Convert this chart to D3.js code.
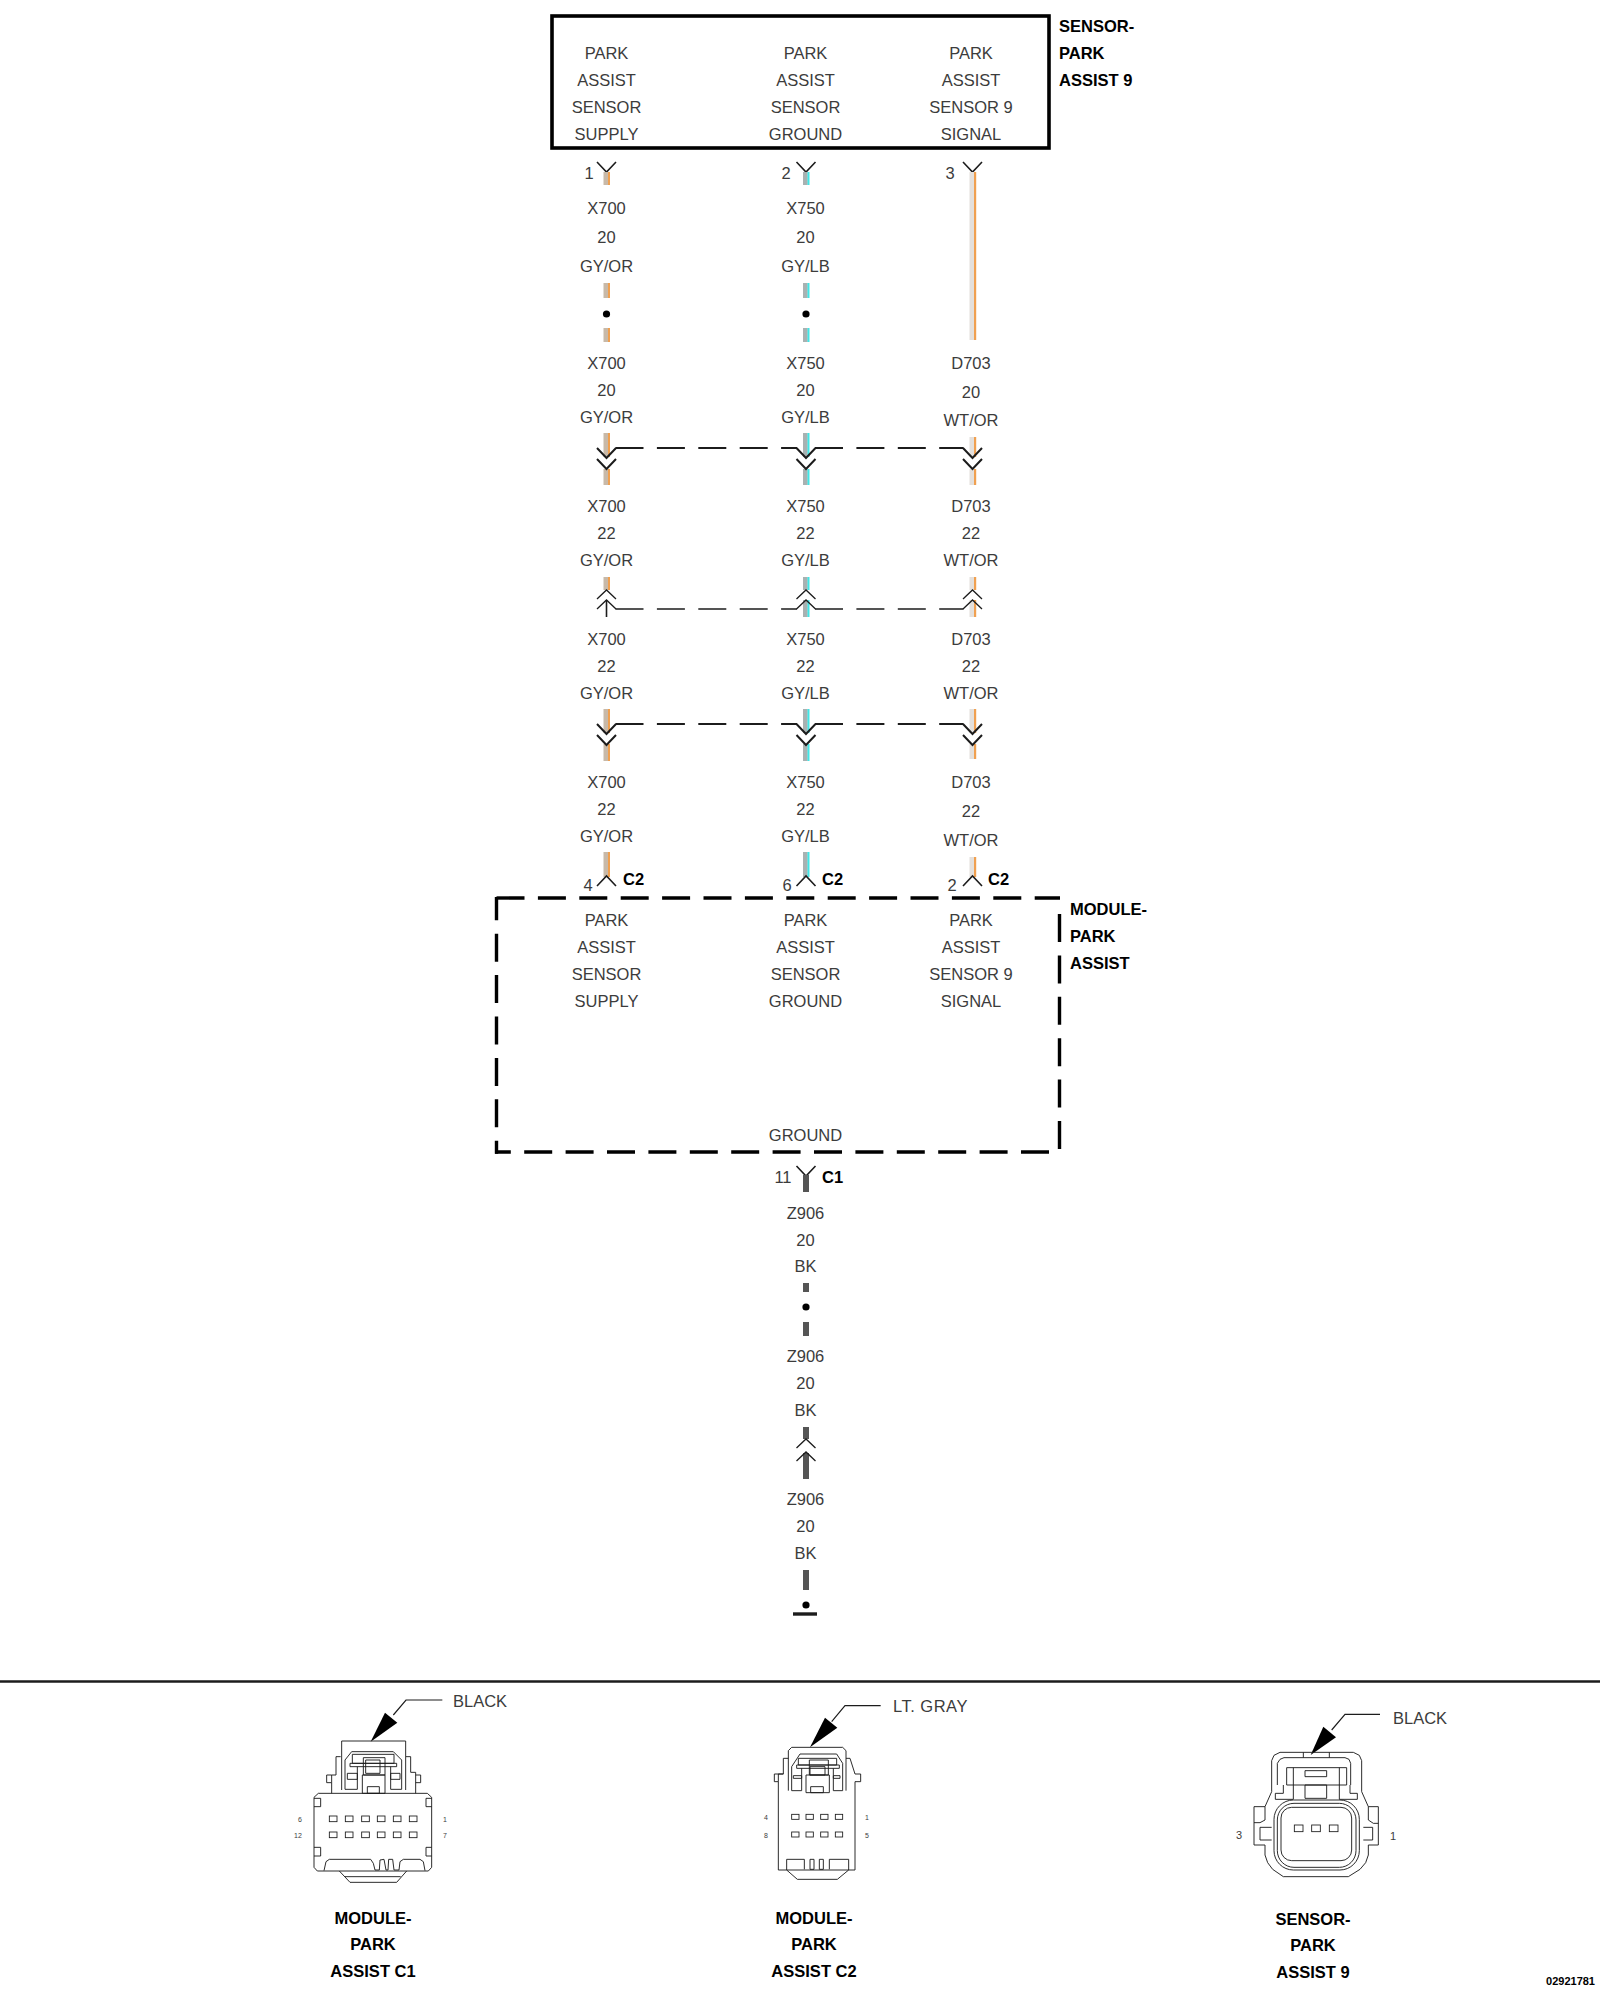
<!DOCTYPE html>
<html>
<head>
<meta charset="utf-8">
<script src="https://cdnjs.cloudflare.com/ajax/libs/d3/7.8.5/d3.min.js"></script>
<style>
  html, body { margin: 0; padding: 0; background: #fff; }
  svg { display: block; }
  text { font-family: "Liberation Sans", Arial, sans-serif; }
</style>
</head>
<body>
<svg id="chart" width="1600" height="2000"></svg>
<script>
// wiring data
const pins = ['supply', 'ground', 'signal'];
const sensorFunctions = [
  ['PARK', 'ASSIST', 'SENSOR', 'SUPPLY'],
  ['PARK', 'ASSIST', 'SENSOR', 'GROUND'],
  ['PARK', 'ASSIST', 'SENSOR 9', 'SIGNAL']
];
const sensorPins = ['1', '2', '3'];
const modulePins = ['4', '6', '2'];
const circuitRuns = [
  ['X700', 'X750', null],
  ['X700', 'X750', 'D703'],
  ['X700', 'X750', 'D703'],
  ['X700', 'X750', 'D703'],
  ['X700', 'X750', 'D703']
];
const gauges = [20, 20, 22, 22, 22];
const colorCodes = [
  ['GY/OR', 'GY/LB', null],
  ['GY/OR', 'GY/LB', 'WT/OR'],
  ['GY/OR', 'GY/LB', 'WT/OR'],
  ['GY/OR', 'GY/LB', 'WT/OR'],
  ['GY/OR', 'GY/LB', 'WT/OR']
];
const groundRuns = ['Z906', 'Z906', 'Z906'];
const groundGauges = [20, 20, 20];
const groundColors = ['BK', 'BK', 'BK'];
const sensorTitle = ['SENSOR-', 'PARK', 'ASSIST 9'];
const moduleTitle = ['MODULE-', 'PARK', 'ASSIST'];

// layout
const x = d3.scaleOrdinal().domain(pins).range([606.5, 806, 972.5]);
const textX = d3.scaleOrdinal().domain(pins).range([606.5, 805.5, 971]);
const sensorPinX = d3.scaleOrdinal().domain(pins).range([589, 786, 950]);
const modulePinX = d3.scaleOrdinal().domain(pins).range([588, 787, 952]);
const c2X = d3.scaleOrdinal().domain(pins).range([623, 822, 988]);
const labelRows = [
  [[208, 237, 266], [208, 237, 266], [208, 237, 266]],
  [[363, 390, 417], [363, 390, 417], [363, 392, 420]],
  [[506, 533, 560], [506, 533, 560], [506, 533, 560]],
  [[639, 666, 693], [639, 666, 693], [639, 666, 693]],
  [[782, 809, 836], [782, 809, 836], [782, 811, 840]]
];
const wireStyle = {
  supply: { base: '#c8b9a8', tracer: '#f0a050', tw: 2 },
  ground: { base: '#a8b2b2', tracer: '#40e6e6', tw: 2 },
  signal: { base: '#e4e0dc', tracer: '#f0a050', tw: 2.2 }
};
const ink = '#1c1c1c';

const svg = d3.select('#chart');
const line = d3.line();

const path = (g, pts, width = 1, closed = false) => g.append('path')
  .attr('d', line(pts) + (closed ? 'Z' : ''))
  .attr('fill', 'none')
  .attr('stroke', ink)
  .attr('stroke-width', width);

const label = (g, str, px, py, opts = {}) => g.append('text')
  .attr('x', px).attr('y', py).attr('dy', '0.36em')
  .attr('text-anchor', opts.anchor || 'middle')
  .attr('font-size', opts.size || 16.5)
  .attr('font-weight', opts.bold ? 700 : 400)
  .attr('fill', opts.bold ? '#000' : '#3c3c3c')
  .attr('letter-spacing', opts.spacing || null)
  .text(str);

function wire(pin, y1, y2) {
  const s = wireStyle[pin], cx = x(pin);
  svg.append('rect').attr('x', cx - 3).attr('y', y1).attr('width', 4.7).attr('height', y2 - y1).attr('fill', s.base);
  svg.append('rect').attr('x', cx + 1.5).attr('y', y1).attr('width', s.tw).attr('height', y2 - y1).attr('fill', s.tracer);
}

function blackWire(cx, y1, y2) {
  svg.append('rect').attr('x', cx - 3).attr('y', y1).attr('width', 6).attr('height', y2 - y1).attr('fill', '#555');
}

const chevDown = (cx, y, w = 2, h = 10) => path(svg, [[cx - 9.5, y], [cx, y + h], [cx + 9.5, y]], w);
const chevUp = (cx, y, w = 1.3, h = 9) => path(svg, [[cx - 9.5, y + h], [cx, y], [cx + 9.5, y + h]], w);
const dot = (cx, cy) => svg.append('circle').attr('cx', cx).attr('cy', cy).attr('r', 3.6).attr('fill', '#000');

function dashedRun(y, width) {
  [[pins[0], pins[1]], [pins[1], pins[2]]].forEach(([a, b]) => {
    path(svg, [[x(a) + 9, y], [x(b) - 9, y]], width).attr('stroke-dasharray', '28 13.4');
  });
}

// sensor box
svg.append('rect').attr('x', 552).attr('y', 16).attr('width', 497).attr('height', 132)
  .attr('fill', 'none').attr('stroke', '#000').attr('stroke-width', 3.6);
pins.forEach((p, i) => sensorFunctions[i].forEach((t, r) => label(svg, t, textX(p), [53, 80, 107, 134][r])));
sensorTitle.forEach((t, r) => label(svg, t, 1059, [26, 53, 80][r], { anchor: 'start', bold: true }));

// wires between the sensor and the module
pins.forEach((p, i) => {
  label(svg, sensorPins[i], sensorPinX(p), 173);
  chevDown(x(p), 162, 1.6, 10);
  if (p === 'signal') {
    wire(p, 172, 340);
  } else {
    wire(p, 172, 185);
    wire(p, 283, 298);
    dot(x(p), 314);
    wire(p, 328, 342);
  }
  circuitRuns.forEach((run, r) => {
    if (!run[i]) return;
    const [a, b, c] = labelRows[r][i];
    label(svg, run[i], textX(p), a);
    label(svg, gauges[r], textX(p), b);
    label(svg, colorCodes[r][i], textX(p), c);
  });

  // first in-line connector
  wire(p, p === 'signal' ? 437 : 433, 457);
  wire(p, 469, 485);
  chevDown(x(p), 448, 2);
  chevDown(x(p), 459, 2);

  // second in-line connector
  wire(p, 577, 590);
  if (p === 'supply') {
    path(svg, [[x(p), 600], [x(p), 617]], 1.6);
  } else {
    wire(p, 600, 617);
  }
  chevUp(x(p), 590);
  chevUp(x(p), 600);

  // third in-line connector
  wire(p, 709, 733);
  wire(p, 744, p === 'signal' ? 759 : 761);
  chevDown(x(p), 724, 2);
  chevDown(x(p), 735, 2);

  // into the module
  wire(p, p === 'signal' ? 857 : 852, 877);
  chevUp(x(p), 876, 1.6, 10);
  label(svg, modulePins[i], modulePinX(p), 885);
  label(svg, 'C2', c2X(p), 879, { anchor: 'start', bold: true });
});
dashedRun(448, 2);
dashedRun(609, 1.6);
dashedRun(724, 2);

// module box
[
  { pts: [[496.5, 898], [1060, 898]], off: 0 },
  { pts: [[1059.5, 914], [1059.5, 1152]], off: 0 },
  { pts: [[1049, 1152], [495, 1152]], off: 0 },
  { pts: [[496.5, 1153.7], [496.5, 897]], off: 15 }
].forEach(e => path(svg, e.pts, 3.4).attr('stroke', '#000')
  .attr('stroke-dasharray', '28 13.4').attr('stroke-dashoffset', e.off));

pins.forEach((p, i) => sensorFunctions[i].forEach((t, r) => label(svg, t, textX(p), [920, 947, 974, 1001][r])));
moduleTitle.forEach((t, r) => label(svg, t, 1070, [909, 936, 963][r], { anchor: 'start', bold: true }));
label(svg, 'GROUND', textX('ground'), 1135);

// ground run
const gx = x('ground');
label(svg, '11', 783, 1177);
label(svg, 'C1', 822, 1177, { anchor: 'start', bold: true });
chevDown(gx, 1166, 1.6, 10);
blackWire(gx, 1175, 1192);
const groundLabelY = [[1213, 1240, 1266], [1356, 1383, 1410], [1499, 1526, 1553]];
groundRuns.forEach((t, r) => {
  label(svg, t, textX('ground'), groundLabelY[r][0]);
  label(svg, groundGauges[r], textX('ground'), groundLabelY[r][1]);
  label(svg, groundColors[r], textX('ground'), groundLabelY[r][2]);
});
blackWire(gx, 1283, 1292);
dot(gx, 1307);
blackWire(gx, 1322, 1336);
blackWire(gx, 1427, 1439);
chevUp(gx, 1439);
blackWire(gx, 1453, 1479);
chevUp(gx, 1452);
blackWire(gx, 1570, 1590);
dot(gx, 1605);
path(svg, [[793, 1614], [817, 1614]], 3.4);

// divider
path(svg, [[0, 1681.5], [1600, 1681.5]], 2.4);

// connector views, traced at 3x so they are scaled down as a group
function view(ox, oy) {
  return svg.append('g').attr('transform', `translate(${ox},${oy}) scale(${1 / 3})`);
}
const pinRects = (g, xs, ys, w, h) => ys.forEach(py => xs.forEach(px =>
  g.append('rect').attr('x', px).attr('y', py).attr('width', w).attr('height', h)
    .attr('fill', 'none').attr('stroke', ink).attr('stroke-width', 2.6)));
const callout = (g, pts, head) => {
  path(g, pts, 3.5);
  g.append('path').attr('d', line(head) + 'Z').attr('fill', '#000');
};
const draw = (g, shapes) => shapes.forEach(s => path(g, s, 2.8));
const box = (x0, y0, x1, y1) => [[x0, y0], [x1, y0], [x1, y1], [x0, y1], [x0, y0]];

// module C1
const c1 = view(250, 1660);
callout(c1, [[577, 120], [468, 120], [430, 165]], [[362, 245], [405, 158], [442, 188]]);
draw(c1, [
  [[275, 390], [275, 243], [467, 243], [467, 390]],
  [[285, 388], [285, 300], [305, 275], [430, 275], [455, 300], [455, 388]],
  box(307, 283, 432, 310), box(300, 310, 440, 320),
  box(340, 293, 405, 345), box(347, 300, 390, 340),
  box(337, 345, 405, 400), box(352, 380, 388, 400),
  box(292, 340, 322, 358), box(422, 340, 450, 358),
  [[322, 320], [322, 388], [285, 388]], [[422, 320], [422, 388], [455, 388]],
  [[272, 290], [258, 290], [258, 345], [245, 345], [245, 368], [245, 400]],
  [[245, 345], [230, 345], [230, 368], [245, 368]],
  [[468, 290], [482, 290], [482, 337], [497, 337], [497, 400]],
  [[497, 345], [512, 345], [512, 368], [497, 368]],
  [[205, 400], [532, 400], [545, 412], [545, 622], [535, 633], [202, 633], [192, 622], [192, 412], [205, 400]],
  [[192, 415], [212, 415], [212, 440], [192, 440]], [[545, 415], [528, 415], [528, 440], [545, 440]],
  [[192, 562], [212, 562], [212, 588], [192, 588]], [[545, 562], [528, 562], [528, 588], [545, 588]],
  [[222, 632], [228, 605], [238, 598], [362, 598], [370, 610], [375, 630], [388, 630], [390, 600], [402, 598], [408, 630], [414, 630], [416, 598], [428, 598], [432, 630], [447, 630], [450, 605], [460, 598], [510, 598], [520, 605], [525, 632]],
  [[268, 633], [300, 667], [440, 667], [470, 633]], [[285, 650], [452, 650]]
]);
pinRects(c1, [238, 286, 335, 382, 430, 478], [468, 516], 23, 17);

// module C2
const c2 = view(720, 1660);
callout(c2, [[482, 137], [375, 137], [335, 185]], [[270, 262], [315, 173], [352, 203]]);
draw(c2, [
  [[205, 392], [205, 272], [215, 262], [368, 262], [378, 272], [378, 392]],
  [[215, 392], [215, 320], [240, 282], [350, 282], [368, 310], [368, 392]],
  box(235, 295, 350, 315), box(230, 315, 358, 325),
  box(268, 300, 325, 345), box(270, 320, 315, 345),
  box(258, 345, 328, 398), box(272, 380, 310, 398),
  box(220, 347, 245, 355), box(340, 347, 360, 355),
  [[245, 325], [245, 392], [215, 392]], [[340, 325], [340, 392], [368, 392]],
  [[205, 295], [190, 295], [190, 342], [163, 342], [163, 365], [175, 365], [175, 630], [405, 630], [405, 365], [422, 365], [422, 342], [405, 342], [390, 295], [378, 295]],
  [[190, 342], [175, 342], [175, 365]],
  [[200, 630], [200, 598], [253, 598], [253, 628]], box(270, 598, 282, 628), box(298, 598, 310, 628),
  [[328, 628], [328, 598], [386, 598], [386, 630]],
  [[200, 630], [232, 658], [352, 658], [386, 630]]
]);
pinRects(c2, [215, 258, 302, 346], [463, 516], 22, 15);

// sensor 9
const c3 = view(1200, 1660);
callout(c3, [[540, 163], [435, 163], [395, 210]], [[332, 285], [370, 200], [408, 232]]);
const roundBox = (g, x0, y0, x1, y1, r) => g.append('rect')
  .attr('x', x0).attr('y', y0).attr('width', x1 - x0).attr('height', y1 - y0).attr('rx', r)
  .attr('fill', 'none').attr('stroke', ink).attr('stroke-width', 2.8);
draw(c3, [
  [[215, 395], [215, 302], [222, 286], [240, 277], [460, 277], [478, 286], [485, 302], [485, 395], [505, 440], [535, 440], [535, 555], [505, 555], [505, 585], [497, 608], [480, 628], [445, 650], [250, 650], [218, 628], [203, 608], [195, 585], [195, 555], [162, 555], [162, 440], [195, 440], [215, 395]],
  [[232, 375], [232, 310], [240, 298], [252, 293], [435, 293], [447, 298], [452, 310], [452, 375]],
  [[310, 277], [310, 293]], [[388, 277], [388, 293]],
  box(260, 323, 440, 375), box(315, 332, 380, 350), box(315, 375, 380, 415),
  [[280, 323], [280, 418]], [[418, 323], [418, 418]],
  [[250, 375], [250, 400], [226, 400], [226, 418], [280, 418]],
  [[450, 375], [450, 400], [472, 400], [472, 418], [418, 418]],
  [[195, 440], [195, 480], [180, 488], [162, 488]], [[215, 502], [180, 502], [180, 540], [215, 540]],
  [[505, 440], [505, 480], [520, 490], [535, 490]], [[490, 502], [518, 502], [518, 540], [490, 540]]
]);
roundBox(c3, 222, 420, 478, 630, 58);
roundBox(c3, 232, 430, 468, 622, 50);
roundBox(c3, 243, 442, 455, 602, 32);
pinRects(c3, [283, 335, 388], [495], 26, 20);

// connector titles and colour tags
const titleY = [1918, 1944, 1971];
[
  { cx: 373, lines: ['MODULE-', 'PARK', 'ASSIST C1'], dy: 0 },
  { cx: 814, lines: ['MODULE-', 'PARK', 'ASSIST C2'], dy: 0 },
  { cx: 1313, lines: ['SENSOR-', 'PARK', 'ASSIST 9'], dy: 1 }
].forEach(c => c.lines.forEach((t, r) => label(svg, t, c.cx, titleY[r] + c.dy, { bold: true })));
label(svg, 'BLACK', 453, 1701, { anchor: 'start' });
label(svg, 'LT. GRAY', 893, 1706, { anchor: 'start', spacing: 0.5 });
label(svg, 'BLACK', 1393, 1718, { anchor: 'start' });

const tinyPins = [
  ['6', 300, 1819], ['12', 298, 1835], ['1', 445, 1819], ['7', 445, 1835],
  ['4', 766, 1817], ['8', 766, 1835], ['1', 867, 1817], ['5', 867, 1835]
];
tinyPins.forEach(([t, px, py]) => label(svg, t, px, py, { size: 7 }));
label(svg, '3', 1239, 1835, { size: 11 });
label(svg, '1', 1393, 1836, { size: 11 });
label(svg, '02921781', 1595, 1981, { anchor: 'end', size: 11, bold: true });
</script>
</body>
</html>
